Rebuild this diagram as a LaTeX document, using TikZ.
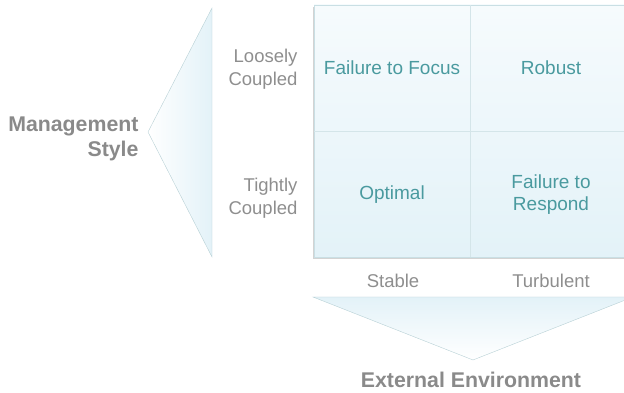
\documentclass[tikz,border=0pt]{standalone}
\usepackage{fontspec}
\setmainfont{Liberation Sans}
\usetikzlibrary{shadows}
\definecolor{cellteal}{HTML}{4A9A9F}
\definecolor{axisgray}{HTML}{8E8E8E}
\definecolor{titlegray}{HTML}{8A8A8A}
\definecolor{paleblue}{HTML}{E3F2F8}
\definecolor{paletop}{HTML}{F6FBFD}
\definecolor{rimblue}{HTML}{C9DFE4}
\definecolor{wedgerim}{HTML}{B7D0D5}

\begin{document}
\begin{tikzpicture}[x=1pt,y=1pt]
\tikzstyle{cell}=[text=cellteal, font=\fontsize{19}{22}\selectfont, align=center]
\tikzstyle{axis}=[text=axisgray, font=\fontsize{18.5}{23}\selectfont]
\tikzstyle{title}=[text=titlegray, font=\bfseries\fontsize{21.3}{25}\selectfont]
\useasboundingbox (0,0) rectangle (624,393);
\clip (0,0) rectangle (624,393);
% wedges
\draw [wedgerim, left color=white, right color=paleblue] (212,385) -- (148,261) -- (212,136) -- cycle;
\draw [wedgerim, top color=paleblue, bottom color=white] (313,96) -- (633,96) -- (473,33) -- cycle;
% grid
\draw [rimblue, top color=paletop, bottom color=paleblue, drop shadow={shadow xshift=-1pt, shadow yshift=-2pt, opacity=0.35}] (314,136) rectangle (632,388);
\draw [rimblue!80] (470,136) -- (470,388);
\draw [rimblue!80] (314,262) -- (632,262);
% cells
\node[cell] (focus) at (392,325) {Failure to Focus};
\node[cell] (robust) at (551,325) {Robust};
\node[cell] (optimal) at (392,198) {Optimal};
\node[cell] (respond) at (551,198) {Failure to\\Respond};
% axes
\node[axis, anchor=east, align=right] (loose) at (301,324) {Loosely\\Coupled};
\node[axis, anchor=east, align=right] (tight) at (301,195) {Tightly\\Coupled};
\node[axis] (stable) at (393,112) {Stable};
\node[axis] (turb) at (551,112) {Turbulent};
\node[title, anchor=east, align=right] (mgmt) at (142,254) {Management\\Style};
\node[title] (env) at (471,13) {External Environment};
\end{tikzpicture}
\end{document}
